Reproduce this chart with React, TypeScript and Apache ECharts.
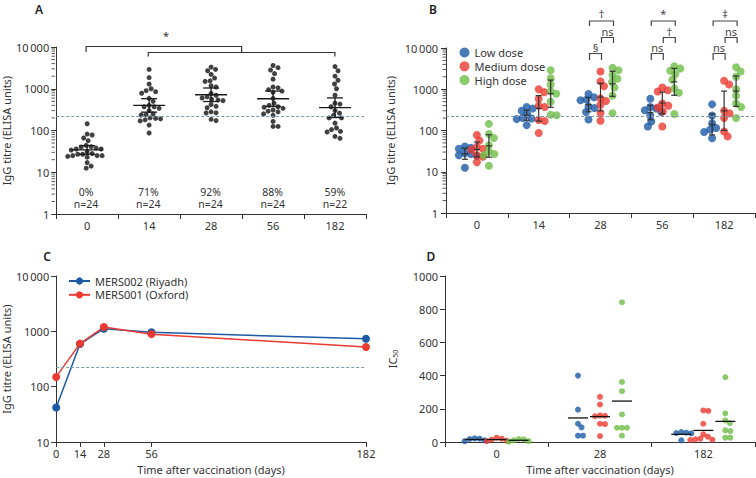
import React, { useEffect, useRef } from 'react';
import * as echarts from 'echarts';

// ---------------- data ----------------
const dayLabels = ['0', '14', '28', '56', '182'];
const threshold = 222;

// Panel B: IgG titre (ELISA units) per dose group, one array per day (0, 14, 28, 56, 182)
const lowDose = [
  [41, 38, 36, 28, 27, 25, 24, 12.5],
  [370, 340, 300, 250, 200, 195, 190, 135],
  [770, 640, 560, 540, 380, 350, 280, 185],
  [590, 370, 340, 310, 280, 230, 165, 125],
  [430, 230, 150, 115, 105, 92, 65],
];
const mediumDose = [
  [78, 57, 40, 36, 34, 25, 23, 17],
  [1000, 850, 590, 400, 370, 180, 170, 87],
  [2700, 1550, 1180, 600, 520, 420, 265, 173],
  [1100, 950, 880, 450, 400, 360, 290, 125],
  [1600, 1300, 300, 260, 200, 95, 72],
];
const highDose = [
  [145, 82, 66, 44, 31, 27, 25, 14],
  [2900, 1850, 1300, 900, 780, 500, 240, 235],
  [3300, 2900, 2200, 1800, 1500, 1100, 700, 262],
  [3600, 3200, 2800, 2300, 1700, 1050, 820, 250],
  [3400, 2700, 2000, 1000, 700, 450, 370, 200],
];
const doseNames = ['Low dose', 'Medium dose', 'High dose'];

// Panel B significance labels: [low vs medium, medium vs high, low vs high]
const bSigDays = [2, 3, 4];
const bSigLabels = [
  ['§', 'ns', '†'],
  ['ns', '†', '*'],
  ['ns', 'ns', '‡'],
];

// Panel C
const cDays = [0, 14, 28, 56, 182];
const cRiyadh = [42, 590, 1115, 960, 735];
const cOxford = [150, 600, 1195, 890, 521];
const cNames = ['MERS002 (Riyadh)', 'MERS001 (Oxford)'];

// Panel D: IC50 per dose group, days 0, 28, 182
const dDayLabels = ['0', '28', '182'];
const dLow = [
  [20, 22, 18, 10, 5],
  [400, 195, 110, 88, 38, 38],
  [56, 54, 60, 52, 10],
];
const dMedium = [
  [26, 20, 14, 8, 5],
  [272, 226, 160, 158, 155, 110, 108, 35],
  [190, 188, 110, 46, 32, 20, 16, 14, 12],
];
const dHigh = [
  [18, 16, 10, 5, 2],
  [842, 362, 306, 166, 86, 86, 86, 38],
  [390, 172, 130, 114, 70, 66, 26, 26],
];

// ---------------- layout / style ----------------
const GA = { left: 55, top: 47, width: 311, height: 167 };
const GB = { left: 446, top: 48, width: 309, height: 165 };
const GC = { left: 55, top: 276, width: 311, height: 166 };
const GD = { left: 445, top: 276, width: 310, height: 166 };
const axisColor = '#333';
const FONT = 'Noto Sans';
const colors = ['#1b5aa6', '#ec3a30', '#6fbe47'];
const dashColor = '#7d9bab';

// ---------------- helpers ----------------
function swarm(vals: number[], toPx: (v: number) => number, d: number): number[] {
  const order = vals.map((_, i) => i).sort((a, b) => vals[b] - vals[a]);
  const placed: { x: number; y: number }[] = [];
  const out = new Array(vals.length).fill(0);
  for (const i of order) {
    const y = toPx(vals[i]);
    let x = 0;
    for (let k = 0; k < 400; k++) {
      const c = k === 0 ? 0 : (k % 2 ? 1 : -1) * Math.ceil(k / 2) * 0.5;
      if (placed.every((p) => (p.x - c) ** 2 + (p.y - y) ** 2 >= d * d)) {
        x = c;
        break;
      }
    }
    placed.push({ x, y });
    out[i] = x;
  }
  return out;
}

const tTable: Record<number, number> = { 3: 3.182, 4: 2.776, 5: 2.571, 6: 2.447, 7: 2.365, 8: 2.306, 21: 2.08, 23: 2.069 };
function gmCI(vals: number[]): [number, number, number] {
  const l = vals.map((v) => Math.log10(v));
  const n = l.length;
  const m = l.reduce((a, b) => a + b, 0) / n;
  const sd = Math.sqrt(l.reduce((a, b) => a + (b - m) ** 2, 0) / (n - 1));
  const half = (tTable[n - 1] ?? 2.0) * sd / Math.sqrt(n);
  return [10 ** m, 10 ** (m - half), 10 ** (m + half)];
}

function makeBar(meanHalf: number, capHalf: number, color: string, lw: number) {
  return (_p: any, api: any) => {
    const x = api.value(0);
    const pm = api.coord([x, api.value(1)]);
    const pl = api.coord([x, api.value(2)]);
    const ph = api.coord([x, api.value(3)]);
    const st = { stroke: color, lineWidth: lw };
    const children: any[] = [
      { type: 'line', shape: { x1: pm[0] - meanHalf, y1: pm[1], x2: pm[0] + meanHalf, y2: pm[1] }, style: st },
    ];
    if (capHalf > 0) {
      children.push(
        { type: 'line', shape: { x1: pl[0], y1: pl[1], x2: ph[0], y2: ph[1] }, style: st },
        { type: 'line', shape: { x1: pl[0] - capHalf, y1: pl[1], x2: pl[0] + capHalf, y2: pl[1] }, style: st },
        { type: 'line', shape: { x1: ph[0] - capHalf, y1: ph[1], x2: ph[0] + capHalf, y2: ph[1] }, style: st }
      );
    }
    return { type: 'group', children };
  };
}

function logLabel(v: number) {
  const r = Math.round(v);
  return r >= 10000 ? '10\u2009000' : String(r);
}

function minorTicks(g: any, decades: number) {
  const els: any[] = [];
  const per = g.height / decades;
  for (let d = 0; d < decades; d++)
    for (let m = 2; m <= 9; m++) {
      const y = g.top + g.height - (d + Math.log10(m)) * per;
      els.push({ type: 'line', silent: true, shape: { x1: g.left - 3.5, y1: y, x2: g.left, y2: y }, style: { stroke: axisColor, lineWidth: 0.8 } });
    }
  return els;
}

function txt(text: string, x: number, y: number, size = 11, weight = 'normal', color = axisColor) {
  return {
    type: 'text', x, y, silent: true,
    style: { text, fill: color, font: `${weight} ${size}px "${FONT}"`, textAlign: 'center', textVerticalAlign: 'middle' },
  };
}
function bracket(x1: number, x2: number, yTop: number, yL: number, yR: number, color = '#333') {
  return {
    type: 'polyline', silent: true,
    shape: { points: [[x1, yL], [x1, yTop], [x2, yTop], [x2, yR]] },
    style: { stroke: color, lineWidth: 1.2, fill: null },
  };
}

function buildOption() {
  const catWA = GA.width / 5;
  const catWB = GB.width / 5;
  const catWD = GD.width / 3;
  const pooled = dayLabels.map((_, i) => lowDose[i].concat(mediumDose[i], highDose[i]));

  // Panel A
  const aPoints: number[][] = [];
  pooled.forEach((vals, i) => {
    const offs = swarm(vals, (v) => Math.log10(v) * (GA.height / 4), 5);
    vals.forEach((v, k) => aPoints.push([i + offs[k] / catWA, v]));
  });
  const aStats = pooled.map((vals, i) => [i, ...gmCI(vals)]);

  // Panel B
  const doses = [lowDose, mediumDose, highDose];
  const bOff = [-12, 0, 12];
  const bPoints = doses.map((dose, j) => {
    const pts: number[][] = [];
    dose.forEach((vals, i) => {
      const offs = swarm(vals, (v) => Math.log10(v) * (GB.height / 4), 6);
      vals.forEach((v, k) => pts.push([i + (bOff[j] + offs[k]) / catWB, v]));
    });
    return pts;
  });
  const bStats: number[][] = [];
  doses.forEach((dose, j) => dose.forEach((vals, i) => bStats.push([i + bOff[j] / catWB, ...gmCI(vals)])));

  // Panel D
  const dDoses = [dLow, dMedium, dHigh];
  const dOff = [-22, 0, 22];
  const dPoints = dDoses.map((dose, j) => {
    const pts: number[][] = [];
    dose.forEach((vals, i) => {
      const offs = swarm(vals, (v) => v * (GD.height / 1000), 5);
      vals.forEach((v, k) => pts.push([i + (dOff[j] + offs[k]) / catWD, v]));
    });
    return pts;
  });
  const dMeans: number[][] = [];
  dDoses.forEach((dose, j) =>
    dose.forEach((vals, i) => {
      const m = vals.reduce((a, b) => a + b, 0) / vals.length;
      dMeans.push([i + dOff[j] / catWD, m, m, m]);
    })
  );

  const markLine = {
    silent: true, symbol: ['none', 'none'], label: { show: false },
    lineStyle: { type: [3, 2], color: dashColor, width: 1.2 },
    data: [{ yAxis: threshold }],
  };

  const axLine = { show: true, onZero: false, lineStyle: { color: axisColor, width: 1 } };
  const axTick = { show: true, length: 5, lineStyle: { color: axisColor, width: 1 } };
  const lbl = { color: axisColor, fontSize: 11, fontFamily: FONT };
  const nameStyle = { color: axisColor, fontSize: 11, fontFamily: FONT };

  // graphics
  const g: any[] = [];
  g.push(txt('A', 39, 9, 12, '600', '#222'));
  g.push(txt('B', 433, 9, 12, '600', '#222'));
  g.push(txt('C', 47, 256, 12, '600', '#222'));
  g.push(txt('D', 431, 256, 12, '600', '#222'));
  g.push(...minorTicks(GA, 4));
  g.push(...minorTicks(GB, 4));
  const cxA = (i: number) => GA.left + (i + 0.5) * catWA;
  pooled.forEach((vals, i) => {
    const pct = Math.round((100 * vals.filter((v) => v > threshold).length) / vals.length) + '%';
    g.push(txt(pct, cxA(i), 191.5, 10.5));
    g.push(txt('n=' + vals.length, cxA(i), 204, 10.5));
  });
  g.push(bracket(cxA(0), GA.left + 3 * catWA, 46.5, 52, 52.5));
  g.push(bracket(cxA(1), cxA(4), 52.5, 56.5, 56.5));
  g.push(txt('*', 166, 35, 11));
  bSigDays.forEach((day, k) => {
    const cx = GB.left + (day + 0.5) * catWB;
    const xl = cx - 11, xm = cx + 1, xh = cx + 13;
    const labs = bSigLabels[k];
    g.push(bracket(xl, xm, 53.5, 60, 60, '#444'));
    g.push(txt(labs[0], (xl + xm) / 2, 47, 11, 'normal', '#444'));
    g.push(bracket(xm, xh, 37.5, 43, 43, '#444'));
    g.push(txt(labs[1], (xm + xh) / 2, 31, 11, 'normal', '#444'));
    g.push(bracket(xl, xh, 21, 26, 26, '#444'));
    g.push(txt(labs[2], (xl + xh) / 2, 13, 11, 'normal', '#444'));
  });

  const catX = (gridIndex: number, data: string[]) => ({
    type: 'category', gridIndex, data, boundaryGap: true,
    axisLine: axLine, axisTick: axTick, axisLabel: { ...lbl, margin: 6 }, splitLine: { show: false },
  });

  return {
    animation: false,
    backgroundColor: '#fff',
    textStyle: { fontFamily: FONT },
    grid: [GA, GB, GC, GD],
    legend: [
      {
        data: doseNames, orient: 'vertical', left: 454.5, top: 41, itemWidth: 10, itemHeight: 10,
        itemGap: 0.8, icon: 'circle', selectedMode: false,
        textStyle: { fontSize: 11, color: axisColor, fontFamily: FONT, lineHeight: 13 },
      },
      {
        data: cNames, orient: 'vertical', left: 63, top: 269.5, itemWidth: 21, itemHeight: 9,
        itemGap: 0.8, selectedMode: false,
        textStyle: { fontSize: 11, color: axisColor, fontFamily: FONT, lineHeight: 13 },
      },
    ],
    xAxis: [
      catX(0, dayLabels),
      { type: 'value', gridIndex: 0, min: -0.5, max: 4.5, show: false },
      catX(1, dayLabels),
      { type: 'value', gridIndex: 1, min: -0.5, max: 4.5, show: false },
      {
        type: 'value', gridIndex: 2, min: 0, max: 182,
        axisLine: axLine, axisTick: { ...axTick, customValues: cDays },
        axisLabel: { ...lbl, margin: 6, customValues: cDays }, splitLine: { show: false },
        name: 'Time after vaccination (days)', nameLocation: 'middle', nameGap: 22, nameTextStyle: nameStyle,
      },
      { ...catX(3, dDayLabels), name: 'Time after vaccination (days)', nameLocation: 'middle', nameGap: 22, nameTextStyle: nameStyle },
      { type: 'value', gridIndex: 3, min: -0.5, max: 2.5, show: false },
    ],
    yAxis: [
      {
        type: 'log', gridIndex: 0, logBase: 10, min: 1, max: 10000, splitNumber: 4,
        axisLine: axLine, axisTick: axTick, axisLabel: { ...lbl, margin: 7, formatter: logLabel }, splitLine: { show: false },
        name: 'IgG titre (ELISA units)', nameLocation: 'middle', nameGap: 42, nameRotate: 90, nameTextStyle: nameStyle,
      },
      {
        type: 'log', gridIndex: 1, logBase: 10, min: 1, max: 10000, splitNumber: 4,
        axisLine: axLine, axisTick: axTick, axisLabel: { ...lbl, margin: 8, formatter: logLabel }, splitLine: { show: false },
        name: 'IgG titre (ELISA units)', nameLocation: 'middle', nameGap: 50, nameRotate: 90, nameTextStyle: nameStyle,
      },
      {
        type: 'log', gridIndex: 2, logBase: 10, min: 10, max: 10000, splitNumber: 3,
        axisLine: axLine, axisTick: axTick, axisLabel: { ...lbl, margin: 7, formatter: logLabel }, splitLine: { show: false },
        name: 'IgG titre (ELISA units)', nameLocation: 'middle', nameGap: 42, nameRotate: 90, nameTextStyle: nameStyle,
      },
      {
        type: 'value', gridIndex: 3, min: 0, max: 1000, interval: 200,
        axisLine: axLine, axisTick: axTick, axisLabel: { ...lbl, margin: 7, formatter: (v: number) => String(v) }, splitLine: { show: false },
        name: '{a|IC}{b|50}', nameLocation: 'middle', nameGap: 46, nameRotate: 90,
        nameTextStyle: {
          ...nameStyle,
          rich: {
            a: { fontSize: 11, color: axisColor, fontFamily: FONT, lineHeight: 14 },
            b: { fontSize: 7, color: axisColor, fontFamily: FONT, verticalAlign: 'bottom', lineHeight: 10 },
          },
        },
      },
    ],
    series: [
      {
        type: 'scatter', name: 'pooled', xAxisIndex: 1, yAxisIndex: 0, data: aPoints, symbolSize: 5,
        itemStyle: { color: '#111' }, silent: true, markLine, z: 3,
      },
      {
        type: 'custom', xAxisIndex: 1, yAxisIndex: 0, data: aStats, encode: { x: 0, y: [1, 2, 3] },
        renderItem: makeBar(16, 8, '#1a1a1a', 1.3), silent: true, z: 4,
      },
      ...doseNames.map((name, j) => ({
        type: 'scatter', name, xAxisIndex: 3, yAxisIndex: 1, data: bPoints[j], symbolSize: 8,
        itemStyle: { color: colors[j] }, silent: true, z: 3,
        ...(j === 0 ? { markLine } : {}),
      })),
      {
        type: 'custom', xAxisIndex: 3, yAxisIndex: 1, data: bStats, encode: { x: 0, y: [1, 2, 3] },
        renderItem: makeBar(3, 3, '#333', 1.2), silent: true, z: 4,
      },
      {
        type: 'line', name: cNames[0], xAxisIndex: 4, yAxisIndex: 2,
        data: cDays.map((d, i) => [d, cRiyadh[i]]), symbol: 'circle', symbolSize: 8,
        itemStyle: { color: colors[0] }, lineStyle: { color: colors[0], width: 1.5 }, silent: true, markLine,
      },
      {
        type: 'line', name: cNames[1], xAxisIndex: 4, yAxisIndex: 2,
        data: cDays.map((d, i) => [d, cOxford[i]]), symbol: 'circle', symbolSize: 8,
        itemStyle: { color: colors[1] }, lineStyle: { color: colors[1], width: 1.5 }, silent: true,
      },
      ...doseNames.map((name, j) => ({
        type: 'scatter', name, xAxisIndex: 6, yAxisIndex: 3, data: dPoints[j], symbolSize: 6,
        itemStyle: { color: colors[j] }, silent: true, z: 3,
      })),
      {
        type: 'custom', xAxisIndex: 6, yAxisIndex: 3, data: dMeans, encode: { x: 0, y: [1, 2, 3] },
        renderItem: makeBar(10, 0, '#111', 1.3), silent: true, z: 4,
      },
    ],
    graphic: g,
  };
}

export default function App() {
  const ref = useRef<HTMLDivElement>(null);
  useEffect(() => {
    if (!ref.current) return;
    const chart = echarts.init(ref.current, null, { renderer: 'svg' });
    chart.setOption(buildOption() as any);
    return () => chart.dispose();
  }, []);
  return (
    <div
      ref={ref}
      style={{ position: 'fixed', left: 0, top: 0, width: 756, height: 478, background: '#fff' }}
    />
  );
}
